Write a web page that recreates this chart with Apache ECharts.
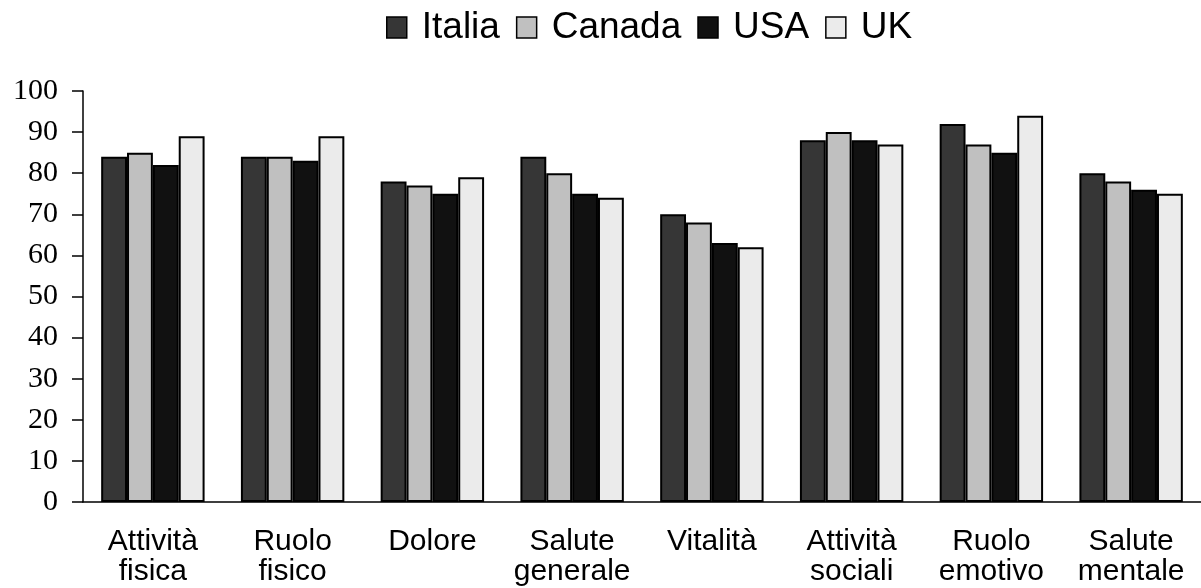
<!DOCTYPE html>
<html>
<head>
<meta charset="utf-8">
<script src="https://cdn.jsdelivr.net/npm/echarts@6/dist/echarts.min.js"></script>
<style>
  html, body { margin: 0; padding: 0; background: #fff; }
  #chart { width: 1201px; height: 588px; }
</style>
</head>
<body>
<div id="chart"></div>
<script>
// categorie (asse x)
const categories = ['Attività\nfisica', 'Ruolo\nfisico', 'Dolore', 'Salute\ngenerale', 'Vitalità', 'Attività\nsociali', 'Ruolo\nemotivo', 'Salute\nmentale']
// valori per paese
const italia = [84, 84, 78, 84, 70, 88, 92, 80]
const canada = [85, 84, 77, 80, 68, 90, 87, 78]
const usa = [82, 83, 75, 75, 63, 88, 85, 76]
const uk = [89, 89, 79, 74, 62, 87, 94, 75]
// tacche asse y
const yTicks = [0, 10, 20, 30, 40, 50, 60, 70, 80, 90, 100]

const sans = '"Liberation Sans", Arial, sans-serif'
const serif = '"Liberation Serif", "Times New Roman", serif'

const mkSeries = (name, data, color) => ({
  name,
  type: 'bar',
  data,
  barGap: '0%',
  barCategoryGap: '26%',
  itemStyle: { color, borderColor: '#000', borderWidth: 2 }
})

const chart = echarts.init(document.getElementById('chart'))
chart.setOption({
  animation: false,
  backgroundColor: '#fff',
  legend: {
    top: 9,
    left: 386,
    padding: 0,
    icon: 'rect',
    itemWidth: 20,
    itemHeight: 21,
    itemGap: 16,
    itemStyle: { borderColor: '#000', borderWidth: 1.5 },
    textStyle: { fontFamily: sans, fontSize: 37, color: '#000', padding: [0, 0, 4, 10] }
  },
  grid: { left: 83, right: -17, top: 91, bottom: 86 },
  xAxis: {
    type: 'category',
    data: categories,
    axisLine: { lineStyle: { color: '#000', width: 1.5 } },
    axisTick: { length: 8, lineStyle: { color: '#000', width: 1.5 } },
    axisLabel: { interval: 0, fontFamily: sans, fontSize: 30, lineHeight: 30, color: '#000', margin: 25 }
  },
  yAxis: {
    type: 'value',
    min: 0,
    max: yTicks[yTicks.length - 1],
    interval: yTicks[1] - yTicks[0],
    splitLine: { show: false },
    axisLine: { show: true, lineStyle: { color: '#000', width: 1.5 } },
    axisTick: { show: true, length: 11, lineStyle: { color: '#000', width: 1.5 } },
    axisLabel: { fontFamily: serif, fontSize: 30, color: '#000', margin: 25 }
  },
  series: [
    mkSeries('Italia', italia, '#363636'),
    mkSeries('Canada', canada, '#c0c0c0'),
    mkSeries('USA', usa, '#111111'),
    mkSeries('UK', uk, '#ebebeb')
  ]
})
</script>
</body>
</html>
